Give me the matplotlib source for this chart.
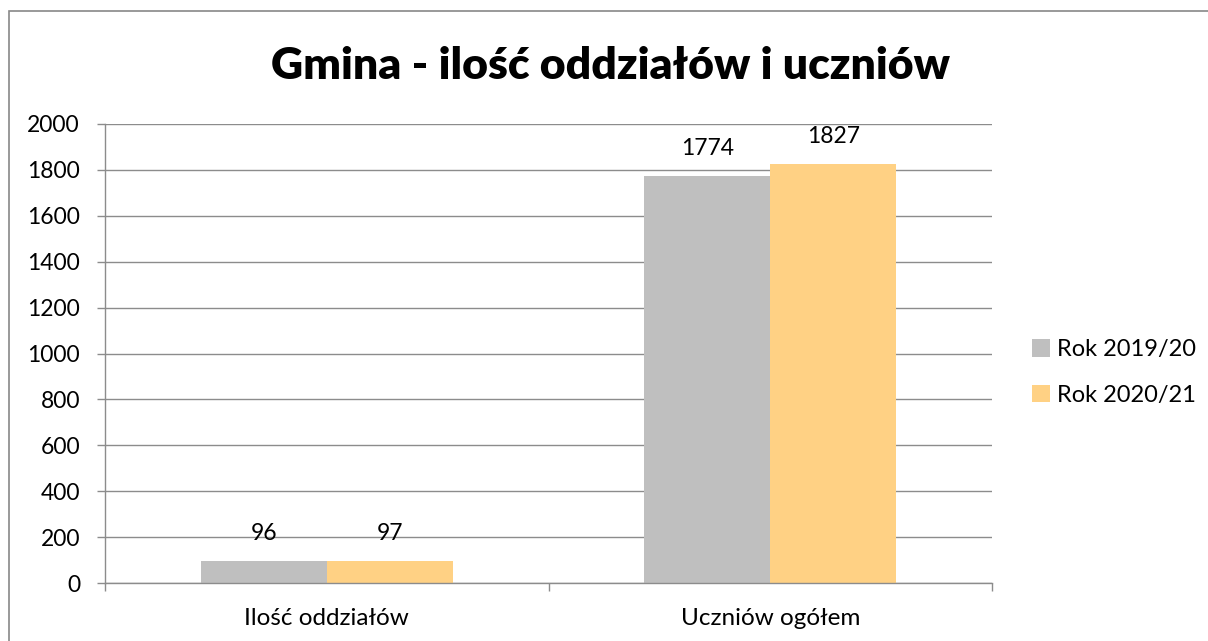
import matplotlib
matplotlib.use("Agg")
import matplotlib.pyplot as plt
from matplotlib.patches import Rectangle
import numpy as np

categories = ["Ilość oddziałów", "Uczniów ogółem"]
series_names = ["Rok 2019/20", "Rok 2020/21"]
values_2019 = [96, 1774]
values_2020 = [97, 1827]
colors = ["#BFBFBF", "#FFD184"]
yticks = [0, 200, 400, 600, 800, 1000, 1200, 1400, 1600, 1800, 2000]

plt.rcParams['font.family'] = ['Lato', 'DejaVu Sans']

W, H = 1208, 641
fig = plt.figure(figsize=(W / 100, H / 100), dpi=100)
ax = fig.add_axes([105 / W, 1 - 583 / H, (992 - 105) / W, (583 - 124) / H])

x = np.arange(len(categories))
bw = 0.284
grid_c = "#8C8C8C"

ax.set_axisbelow(True)
ax.yaxis.grid(True, color=grid_c, linewidth=1.0)
for i, (vals, name) in enumerate(zip([values_2019, values_2020], series_names)):
    pos = x + (i - 0.5) * bw
    bars = ax.bar(pos, vals, width=bw, color=colors[i], label=name, zorder=2)
    for b, v in zip(bars, vals):
        ax.annotate(str(v), (b.get_x() + b.get_width() / 2, v),
                    xytext=(0, 27), textcoords="offset pixels",
                    ha="center", va="center", fontsize=16.5, color="#000000")

ax.set_xlim(-0.5, 1.5)
ax.set_ylim(0, 2000)
ax.set_yticks(yticks)
ax.set_xticks(x)
ax.set_xticklabels(categories)
ax.set_xticks([-0.5, 0.5, 1.5], minor=True)
ax.tick_params(axis="x", which="major", length=0, pad=18, labelsize=17.5)
ax.tick_params(axis="x", which="minor", length=6, color=grid_c, width=1, direction="out")
ax.tick_params(axis="y", length=6, color=grid_c, width=1, pad=12, labelsize=16.5)

for s in ["top", "right"]:
    ax.spines[s].set_visible(False)
for s in ["left", "bottom"]:
    ax.spines[s].set_color(grid_c)
    ax.spines[s].set_linewidth(1.0)

fig.text(611 / W, 1 - 66 / H, "Gmina - ilość oddziałów i uczniów",
         ha="center", va="center", fontsize=32, fontweight="heavy")

leg = fig.legend(loc="upper left", bbox_to_anchor=(1011 / W, 1 - 318 / H),
                 frameon=False, fontsize=17, handlelength=0.75, handleheight=0.75,
                 handletextpad=0.3, labelspacing=1.05)

fig.patches.append(Rectangle((9 / W, -0.1), 1.2, 1 - 11 / H + 0.1,
                             transform=fig.transFigure, fill=False,
                             edgecolor="#888888", linewidth=1.2))

fig.savefig("out.png", dpi=100, facecolor="white")
